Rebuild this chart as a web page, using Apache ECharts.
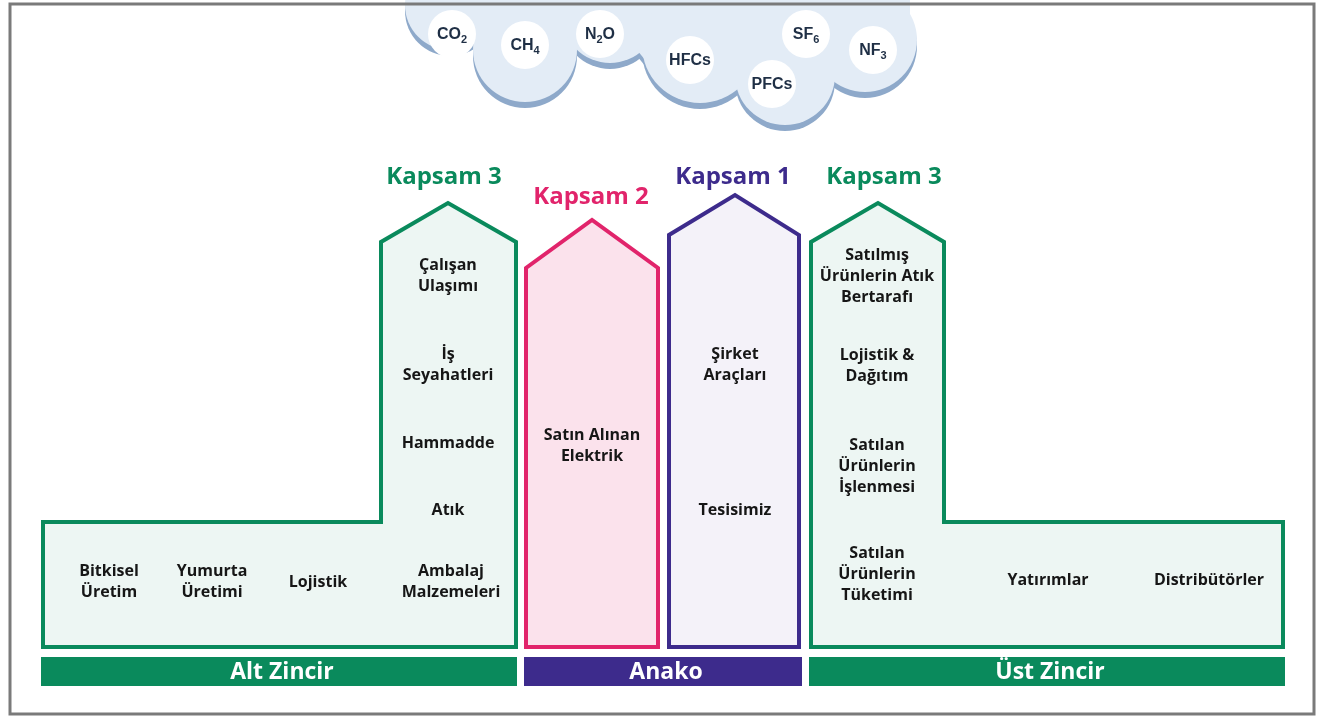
<!DOCTYPE html>
<html>
<head>
<meta charset="utf-8">
<script src="https://cdn.jsdelivr.net/npm/echarts@6/dist/echarts.min.js"></script>
<style>
  html, body { margin: 0; padding: 0; background: #fff; }
  #chart { width: 1319px; height: 716px; }
</style>
</head>
<body>
<div id="chart"></div>
<script>
// sera gazlari (bulut icindeki baloncuklar): [ana metin, alt simge]
const gasNames = [['CO', '2'], ['CH', '4'], ['N', '2', 'O'], ['HFCs'], ['PFCs'], ['SF', '6'], ['NF', '3']];
const scopeNames = ['Kapsam 3', 'Kapsam 2', 'Kapsam 1', 'Kapsam 3'];
const chainNames = ['Alt Zincir', 'Anako', 'Üst Zincir'];
const altTowerItems = ['Çalışan\nUlaşımı', 'İş\nSeyahatleri', 'Hammadde', 'Atık'];
const altItems = ['Bitkisel\nÜretim', 'Yumurta\nÜretimi', 'Lojistik', 'Ambalaj\nMalzemeleri'];
const scope2Items = ['Satın Alınan\nElektrik'];
const scope1Items = ['Şirket\nAraçları', 'Tesisimiz'];
const ustTowerItems = ['Satılmış\nÜrünlerin Atık\nBertarafı', 'Lojistik &\nDağıtım', 'Satılan\nÜrünlerin\nİşlenmesi', 'Satılan\nÜrünlerin\nTüketimi'];
const ustItems = ['Yatırımlar', 'Distribütörler'];

const GREEN = '#0a8a5c';
const PINK = '#e1246b';
const PURPLE = '#3d2b8c';
const FONT = '"Open Sans", "DejaVu Sans", sans-serif';
const GAS_FONT = '"Liberation Sans", "DejaVu Sans", sans-serif';

// yerlesim (eksen birimleri = piksel)
const gasPos = [[452, 34], [525, 45], [600, 34], [690, 60], [772, 84], [806, 34], [873, 50]];
const cloudCircles = [[450, 5, 45], [525, 50, 52], [610, 15, 48], [672, 30, 40], [700, 45, 58], [785, 75, 50], [865, 40, 52]];
const cloudRects = [[430, 0, 210, 30], [672, 0, 238, 55]];
const shapes = [
  { fill: '#edf6f3', stroke: GREEN, pts: [[43, 522], [381, 522], [381, 242], [448, 203], [516, 242], [516, 647], [43, 647]] },
  { fill: '#fbe2ec', stroke: PINK, pts: [[526, 647], [526, 268], [592, 220], [658, 268], [658, 647]] },
  { fill: '#f4f2f9', stroke: PURPLE, pts: [[669, 647], [669, 235], [735, 195], [799, 235], [799, 647]] },
  { fill: '#edf6f3', stroke: GREEN, pts: [[811, 647], [811, 242], [878, 203], [944, 242], [944, 522], [1283, 522], [1283, 647]] }
];
const scopePos = [[444, 177, GREEN], [591, 197, PINK], [733, 177, PURPLE], [884, 177, GREEN]];
const chainBars = [[41, 657, 517, 686, GREEN], [524, 657, 802, 686, PURPLE], [809, 657, 1285, 686, GREEN]];

const texts = [];
altTowerItems.forEach((t, i) => texts.push([448, [276, 365, 443, 510][i], t]));
altItems.forEach((t, i) => texts.push([[109, 212, 318, 451][i], 582, t]));
scope2Items.forEach(t => texts.push([592, 446, t]));
scope1Items.forEach((t, i) => texts.push([735, [365, 510][i], t]));
ustTowerItems.forEach((t, i) => texts.push([877, [276, 366, 466, 574][i], t]));
ustItems.forEach((t, i) => texts.push([[1048, 1209][i], 580, t]));

const chart = echarts.init(document.getElementById('chart'));

function pt(api, p) {
  return api.coord(p);
}

// gaz adini rich text'e cevir: tek indeksler alt simge
function gasRich(parts) {
  return parts.map((s, i) => (i % 2 === 1 ? '{s|' + s + '}' : '{m|' + s + '}')).join('');
}

const option = {
  animation: false,
  grid: { left: 0, right: 0, top: 0, bottom: 0 },
  xAxis: { type: 'value', min: 0, max: 1319, show: false },
  yAxis: { type: 'value', min: 0, max: 716, inverse: true, show: false },
  series: [
    {
      // bulut: once golge, sonra acik renk
      type: 'custom',
      data: [[0, 0]],
      renderItem(params, api) {
        const kids = [];
        [['#8ea9ca', 6], ['#e3ecf6', 0]].forEach(([c, dy]) => {
          cloudCircles.forEach(([x, y, r]) => {
            const p = pt(api, [x, y + dy]);
            kids.push({ type: 'circle', shape: { cx: p[0], cy: p[1], r }, style: { fill: c } });
          });
          cloudRects.forEach(([x, y, w, h]) => {
            const p = pt(api, [x, y + dy]);
            kids.push({ type: 'rect', shape: { x: p[0], y: p[1], width: w, height: h }, style: { fill: c } });
          });
        });
        return { type: 'group', children: kids };
      }
    },
    {
      type: 'custom',
      data: gasNames.map((n, i) => [gasPos[i][0], gasPos[i][1]]),
      renderItem(params, api) {
        const p = api.coord([api.value(0), api.value(1)]);
        return {
          type: 'group',
          children: [
            { type: 'circle', shape: { cx: p[0], cy: p[1], r: 24 }, style: { fill: '#ffffff' } },
            {
              type: 'text', x: p[0], y: p[1] + 1,
              style: {
                text: gasRich(gasNames[params.dataIndex]),
                align: 'center', verticalAlign: 'middle',
                rich: {
                  m: { fontFamily: GAS_FONT, fontWeight: 'bold', fontSize: 16, lineHeight: 20, fill: '#1f2f45' },
                  s: { fontFamily: GAS_FONT, fontWeight: 'bold', fontSize: 11, lineHeight: 10, verticalAlign: 'bottom', fill: '#1f2f45' }
                }
              }
            }
          ]
        };
      }
    },
    {
      type: 'custom',
      data: shapes.map((s, i) => [i, 0]),
      renderItem(params, api) {
        const s = shapes[params.dataIndex];
        return {
          type: 'polygon',
          shape: { points: s.pts.map(p => pt(api, p)) },
          style: { fill: s.fill, stroke: s.stroke, lineWidth: 4, lineJoin: 'miter' }
        };
      }
    },
    {
      type: 'custom',
      data: scopeNames.map((n, i) => [scopePos[i][0], scopePos[i][1]]),
      renderItem(params, api) {
        const p = api.coord([api.value(0), api.value(1)]);
        return {
          type: 'text', x: p[0], y: p[1],
          style: { text: scopeNames[params.dataIndex], fill: scopePos[params.dataIndex][2], font: 'bold 24px ' + FONT, align: 'center', verticalAlign: 'middle' }
        };
      }
    },
    {
      type: 'custom',
      data: texts.map(t => [t[0], t[1]]),
      renderItem(params, api) {
        const p = api.coord([api.value(0), api.value(1)]);
        return {
          type: 'text', x: p[0], y: p[1],
          style: { text: texts[params.dataIndex][2], fill: '#161616', font: 'bold 16px ' + FONT, lineHeight: 21, align: 'center', verticalAlign: 'middle' }
        };
      }
    },
    {
      type: 'custom',
      data: chainNames.map((n, i) => [chainBars[i][0], chainBars[i][1]]),
      renderItem(params, api) {
        const b = chainBars[params.dataIndex];
        const a = pt(api, [b[0], b[1]]);
        const c = pt(api, [b[2], b[3]]);
        return {
          type: 'group',
          children: [
            { type: 'rect', shape: { x: a[0], y: a[1], width: c[0] - a[0], height: c[1] - a[1] }, style: { fill: b[4] } },
            { type: 'text', x: (a[0] + c[0]) / 2 + 3, y: (a[1] + c[1]) / 2 + 1, style: { text: chainNames[params.dataIndex], fill: '#ffffff', font: 'bold 23px ' + FONT, align: 'center', verticalAlign: 'middle' } }
          ]
        };
      }
    },
    {
      // cerceve
      type: 'custom',
      data: [[0, 0]],
      renderItem(params, api) {
        const a = pt(api, [10, 4]);
        const c = pt(api, [1314, 714]);
        return {
          type: 'rect',
          shape: { x: a[0], y: a[1], width: c[0] - a[0], height: c[1] - a[1] },
          style: { fill: 'none', stroke: '#7a7a7a', lineWidth: 3 }
        };
      }
    }
  ]
};

chart.setOption(option);
</script>
</body>
</html>
